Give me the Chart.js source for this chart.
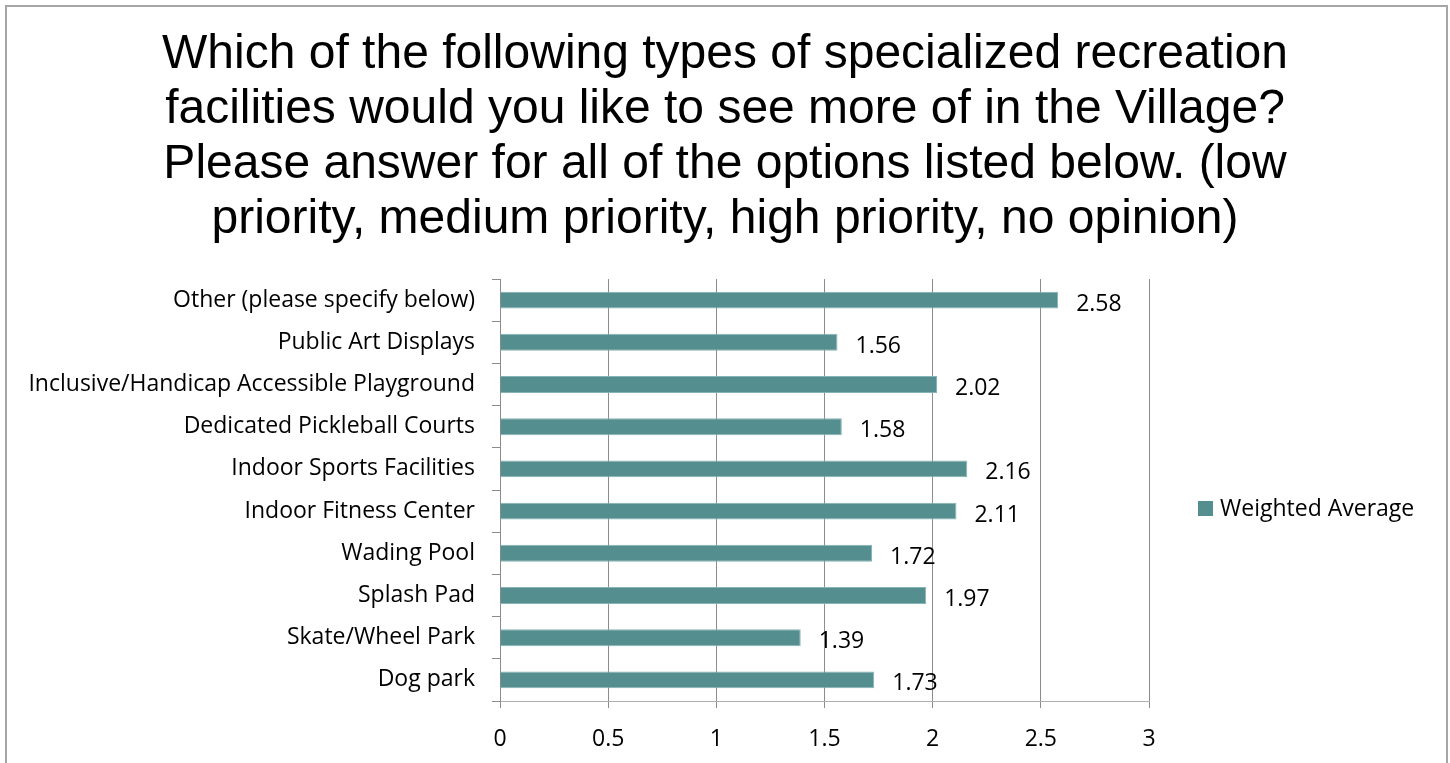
<!DOCTYPE html>
<html>
<head>
<meta charset="utf-8">
<script src="https://cdn.jsdelivr.net/npm/chart.js@4/dist/chart.umd.min.js"></script>
<style>
  body { margin: 0; background: #fff; }
  #wrap { position: absolute; left: 0; top: 0; width: 1450px; height: 763px; }
  #frame { position: absolute; left: 5px; top: 5px; width: 1439px; height: 800px; border: 2px solid #a6a6a6; pointer-events: none; }
</style>
</head>
<body>
<div id="wrap"><canvas id="chart" width="1450" height="763"></canvas></div>
<div id="frame"></div>
<script>
// categories, top to bottom as in the picture
var categories = [
    "Other (please specify below)",
    "Public Art Displays",
    "Inclusive/Handicap Accessible Playground",
    "Dedicated Pickleball Courts",
    "Indoor Sports Facilities",
    "Indoor Fitness Center",
    "Wading Pool",
    "Splash Pad",
    "Skate/Wheel Park",
    "Dog park"
];
var weightedAverage = [2.58, 1.56, 2.02, 1.58, 2.16, 2.11, 1.72, 1.97, 1.39, 1.73];
var xTicks = ["0", "0.5", "1", "1.5", "2", "2.5", "3"];
var titleLines = [
    "Which of the following types of specialized recreation",
    "facilities would you like to see more of in the Village?",
    "Please answer for all of the options listed below. (low",
    "priority, medium priority, high priority, no opinion)"
];

var labelFont = "Open Sans";
var labelSize = 23;
var barColor = "#558e8e";

// value labels right of each bar, plus the legend entry on the right
var valueLabels = {
    id: "valueLabels",
    afterDatasetsDraw: function (chart) {
        var ctx = chart.ctx;
        var meta = chart.getDatasetMeta(0);
        ctx.save();
        ctx.font = labelSize + "px '" + labelFont + "'";
        ctx.fillStyle = "#000";
        ctx.textAlign = "left";
        ctx.textBaseline = "middle";
        meta.data.forEach(function (bar, i) {
            ctx.fillText(weightedAverage[i].toFixed(2), bar.x + 18, bar.y + 4);
        });

        // legend
        var area = chart.chartArea;
        var lx = area.right + 49;
        var ly = (area.top + area.bottom) / 2 + 19;
        ctx.fillStyle = barColor;
        ctx.fillRect(lx, ly - 8, 15, 15);
        ctx.fillStyle = "#000";
        ctx.fillText(chart.data.datasets[0].label, lx + 22, ly);
        ctx.restore();
    }
};

var ctx = document.getElementById("chart").getContext("2d");
var myChart = new Chart(ctx, {
    type: "bar",
    data: {
        labels: categories,
        datasets: [{
            label: "Weighted Average",
            data: weightedAverage,
            backgroundColor: barColor,
            borderColor: "#86b3b3",
            borderWidth: 1,
            barPercentage: 0.4,
            categoryPercentage: 1
        }]
    },
    plugins: [valueLabels],
    options: {
        indexAxis: "y",
        responsive: false,
        animation: false,
        layout: { padding: 0 },
        plugins: {
            tooltip: { enabled: false },
            legend: { display: false },
            title: {
                display: true,
                text: titleLines,
                color: "#000",
                font: { family: "Liberation Sans", size: 48, weight: "normal", lineHeight: 55 / 48 },
                padding: { top: 27, bottom: 32 }
            }
        },
        scales: {
            x: {
                min: 0,
                max: 3,
                ticks: {
                    stepSize: 0.5,
                    color: "#000",
                    padding: 18,
                    font: { family: labelFont, size: labelSize },
                    callback: function (value, index) { return xTicks[index]; }
                },
                grid: { color: "#8c8c8c", tickLength: 7, tickColor: "#8c8c8c" },
                border: { color: "#b0b0b0" },
                afterFit: function (scale) { scale.height = 62; }
            },
            y: {
                ticks: {
                    color: "#000",
                    padding: 17,
                    font: { family: labelFont, size: labelSize }
                },
                grid: { drawOnChartArea: false, offset: true, tickLength: 8, color: "#8c8c8c" },
                border: { color: "#8c8c8c" },
                afterFit: function (scale) { scale.width = 500; }
            },
            // empty axis that keeps room for the legend on the right
            legendSpace: {
                type: "linear",
                axis: "y",
                position: "right",
                ticks: { display: false },
                grid: { display: false },
                border: { display: false },
                afterFit: function (scale) { scale.width = 301; }
            }
        }
    }
});
</script>
</body>
</html>
